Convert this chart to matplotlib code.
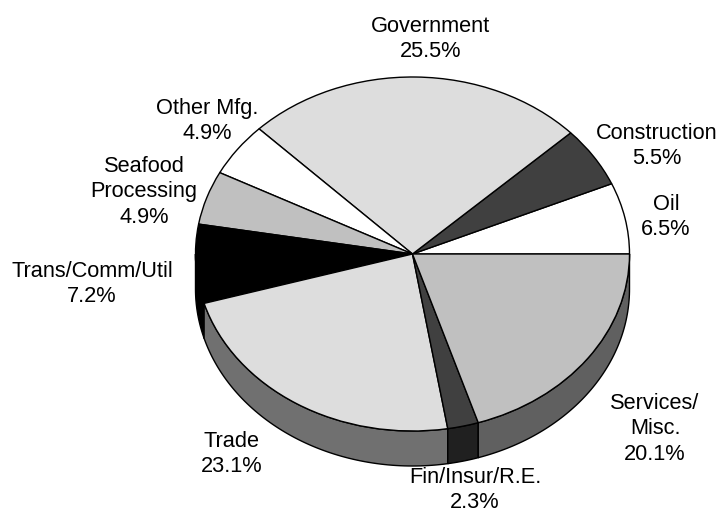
import numpy as np
import matplotlib
matplotlib.use("Agg")
import matplotlib.pyplot as plt

plt.rcParams['font.family'] = ['Liberation Sans', 'DejaVu Sans']

sectors = ['Oil', 'Construction', 'Government', 'Other Mfg.', 'Seafood\nProcessing',
           'Trans/Comm/Util', 'Trade', 'Fin/Insur/R.E.', 'Services/\nMisc.']
shares = [6.5, 5.5, 25.5, 4.9, 4.9, 7.2, 23.1, 2.3, 20.1]
top_colors = ['#ffffff', '#404040', '#dddddd', '#ffffff', '#c0c0c0',
              '#000000', '#dddddd', '#404040', '#c0c0c0']
side_colors = ['#ffffff', '#404040', '#dddddd', '#ffffff', '#c0c0c0',
               '#000000', '#707070', '#202020', '#606060']

# label centres in pixels of the 728x514 picture
label_xy = [(666, 217), (657, 146), (431, 39), (207, 121), (144, 192),
            (92, 284), (232, 454), (475, 490), (655, 429)]

W, H = 728, 514
cx, cy = 412.5, 254
rx, ry = 217, 177
depth = 35 / ry

fig = plt.figure(figsize=(W / 100, H / 100), dpi=100)
ax = fig.add_axes([0, 0, 1, 1])

wedges, _ = ax.pie(shares, colors=top_colors, startangle=0, radius=1, frame=True,
                   wedgeprops={'edgecolor': 'black', 'linewidth': 1.0, 'zorder': 3})

# rim of the pie, only the part that faces the viewer
for w, col in zip(wedges, side_colors):
    a = max(w.theta1, 180)
    b = min(w.theta2, 360)
    if b <= a:
        continue
    t = np.radians(np.linspace(a, b, 80))
    xs = np.concatenate([np.cos(t), np.cos(t[::-1])])
    ys = np.concatenate([np.sin(t), np.sin(t[::-1]) - depth])
    ax.fill(xs, ys, facecolor=col, edgecolor='black', linewidth=1.0, zorder=2)

# squash the circle to an ellipse
ax.set_aspect('auto')
ax.set_xlim(-cx / rx, (W - cx) / rx)
ax.set_ylim((cy - H) / ry, cy / ry)
ax.axis('off')

for name, share, (px, py) in zip(sectors, shares, label_xy):
    fig.text(px / W, 1 - py / H, '%s\n%.1f%%' % (name, share), ha='center', va='center',
             fontsize=15.7, color='black', linespacing=1.3)

fig.savefig('out.png', dpi=100, facecolor='white')
